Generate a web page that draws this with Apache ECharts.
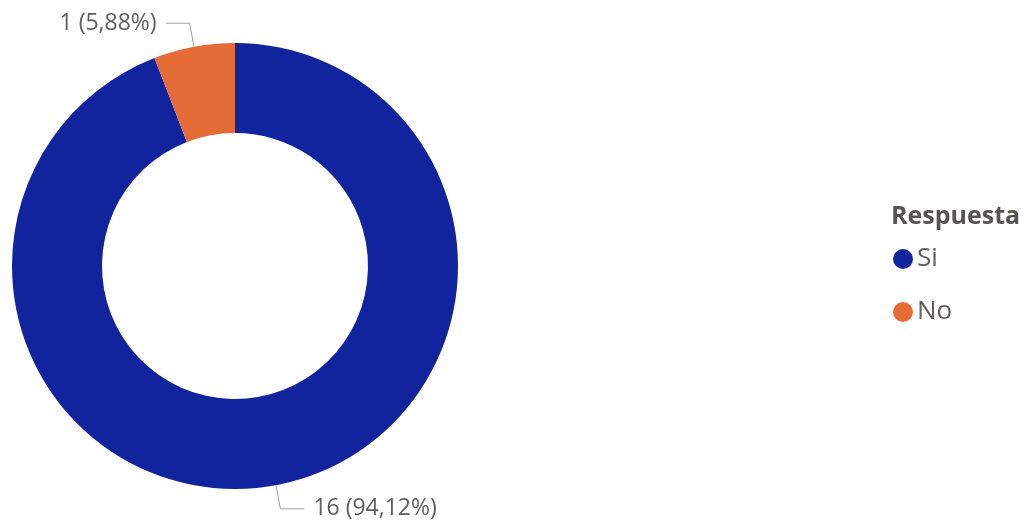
<!DOCTYPE html>
<html>
<head>
<meta charset="utf-8">
<script src="https://cdn.jsdelivr.net/npm/echarts@6/dist/echarts.min.js"></script>
<style>
  html, body { margin: 0; padding: 0; background: #ffffff; }
  #chart { width: 1026px; height: 527px; }
</style>
</head>
<body>
<div id="chart"></div>
<script>
// Respuestas por categoría
const categories = ['Si', 'No'];
const values = [16, 1];
const colors = ['#12239E', '#E66C37'];
const legendTitle = 'Respuesta';

const FONT = '"Open Sans", "Noto Sans", sans-serif';

const chart = echarts.init(document.getElementById('chart'), null, { renderer: 'canvas' });

const data = categories.map((name, i) => ({
  name,
  value: values[i],
  itemStyle: { color: colors[i] }
}));

chart.setOption({
  animation: false,
  title: {
    text: legendTitle,
    left: 891,
    top: 204,
    padding: 0,
    textStyle: { fontFamily: FONT, fontSize: 25, fontWeight: 'bold', color: '#56544f' }
  },
  legend: {
    orient: 'vertical',
    left: 893,
    top: 246,
    padding: 0,
    icon: 'circle',
    itemWidth: 20,
    itemHeight: 20,
    itemGap: 27,
    data: categories,
    textStyle: { fontFamily: FONT, fontSize: 26, color: '#605E5C', padding: [0, 0, 0, -1] }
  },
  series: [{
    type: 'pie',
    center: [235, 266],
    radius: [133, 223],
    startAngle: 90,
    clockwise: true,
    percentPrecision: 2,
    avoidLabelOverlap: false,
    data,
    label: {
      show: true,
      fontFamily: FONT,
      fontSize: 23,
      color: '#605E5C',
      distanceToLabelLine: 9,
      formatter: p => p.value + ' (' + p.percent.toFixed(2).replace('.', ',') + '%)'
    },
    labelLine: {
      show: true,
      length: 24,
      length2: 24,
      lineStyle: { color: '#a19f9d', width: 1 }
    },
    emphasis: { disabled: true }
  }]
});
</script>
</body>
</html>
